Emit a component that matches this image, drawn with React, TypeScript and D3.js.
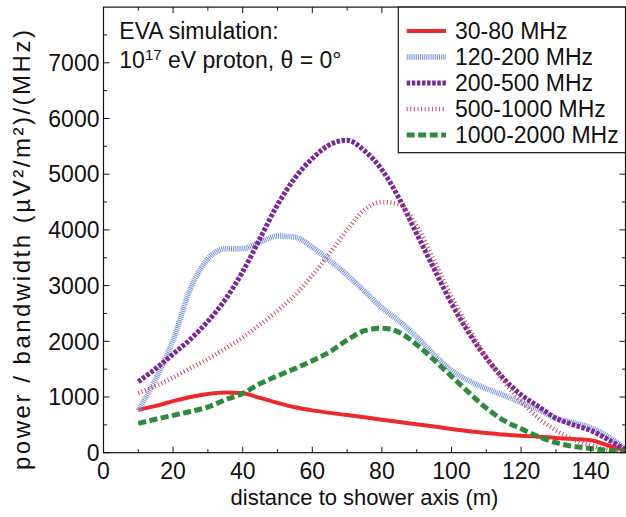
import React from 'react';
import * as d3 from 'd3';

// distance to shower axis (m)
const distance = [10, 15, 20, 25, 30, 35, 40, 45, 50, 55, 60, 65, 70, 75, 80, 85, 90, 95, 100, 105, 110, 115, 120, 125, 130, 135, 140, 145, 150];

// power / bandwidth per band
const band30to80 = [767, 840, 925, 1000, 1055, 1083, 1066, 985, 895, 815, 760, 715, 675, 635, 590, 550, 510, 470, 425, 385, 355, 325, 305, 288, 265, 245, 225, 130, 40];
const band120to200 = [760, 1320, 2020, 2950, 3480, 3660, 3665, 3780, 3890, 3870, 3690, 3450, 3190, 2900, 2600, 2360, 2080, 1760, 1480, 1290, 1150, 1030, 900, 770, 620, 540, 450, 290, 60];
const band200to500 = [1275, 1510, 1770, 2040, 2360, 2750, 3250, 3850, 4450, 4930, 5280, 5530, 5610, 5420, 5080, 4560, 3930, 3300, 2680, 2150, 1700, 1330, 1040, 830, 620, 500, 400, 235, 50];
const band500to1000 = [1066, 1200, 1350, 1520, 1680, 1870, 2070, 2300, 2550, 2830, 3180, 3580, 4000, 4360, 4500, 4460, 4080, 3450, 2800, 2230, 1720, 1280, 920, 620, 400, 240, 130, 50, 10];
const band1000to2000 = [527, 600, 670, 740, 820, 950, 1065, 1240, 1380, 1510, 1650, 1810, 2020, 2190, 2235, 2160, 1940, 1664, 1370, 1080, 800, 580, 430, 290, 180, 115, 75, 40, 15];

const seriesNames = ['30-80 MHz', '120-200 MHz', '200-500 MHz', '500-1000 MHz', '1000-2000 MHz'];
const seriesValues = [band30to80, band120to200, band200to500, band500to1000, band1000to2000];

const xTickValues = [0, 20, 40, 60, 80, 100, 120, 140];
const xMinorValues = [10, 30, 50, 70, 90, 110, 130, 150];
const yTickValues = [0, 1000, 2000, 3000, 4000, 5000, 6000, 7000];
const yMinorValues = [500, 1500, 2500, 3500, 4500, 5500, 6500, 7500];

const styles = [
  { color: '#ec2a2e', width: 4, dash: undefined as string | undefined },
  { color: '#7593dc', width: 5.5, dash: '1,0.9' },
  { color: '#7a2898', width: 5, dash: '3.5,1.6' },
  { color: '#c0505a', width: 4.5, dash: '1,2.6' },
  { color: '#2e8b3c', width: 5, dash: '8,3.5' },
];
const drawOrder = [0, 1, 2, 3, 4];

const FONT = '"Liberation Sans", Arial, Helvetica, sans-serif';

export default function App() {
  const W = 626;
  const H = 517;
  const left = 103.5, right = 625.5, top = 7.1, bottom = 452.7;
  const x = d3.scaleLinear().domain([0, 150]).range([left, right]);
  const y = d3.scaleLinear().domain([0, 8000]).range([bottom, top]);
  const line = d3
    .line<number>()
    .x((_, i) => x(distance[i]))
    .y((d) => y(d))
    .curve(d3.curveMonotoneX);

  const majorLen = 6;
  const minorLen = 3.5;

  const legX = 398.3;
  const legBottom = 152.7;
  const legBaselines = [38.5, 64.5, 90.5, 116.5, 142.5];

  return (
    <svg
      width={W}
      height={H}
      viewBox={`0 0 ${W} ${H}`}
      style={{ position: 'absolute', left: 0, top: 0, background: '#fff' }}
      fontFamily={FONT}
    >
      <defs>
        <clipPath id="plotClip">
          <rect x={left} y={top} width={right - left} height={bottom - top} />
        </clipPath>
      </defs>
      <rect x={0} y={0} width={W} height={H} fill="#fff" />

      {/* curves */}
      <g clipPath="url(#plotClip)">
        {drawOrder.map((k) => (
          <path
            key={k}
            d={line(seriesValues[k]) || ''}
            fill="none"
            stroke={styles[k].color}
            strokeWidth={styles[k].width}
            strokeDasharray={styles[k].dash}
            strokeLinecap="butt"
          />
        ))}
      </g>

      {/* frame */}
      <rect x={left} y={top} width={right - left} height={bottom - top} fill="none" stroke="#111" strokeWidth={1.2} />

      {/* x ticks */}
      {xTickValues.map((v) => (
        <g key={'xt' + v}>
          <line x1={x(v)} x2={x(v)} y1={bottom} y2={bottom - majorLen} stroke="#111" strokeWidth={1} />
          <line x1={x(v)} x2={x(v)} y1={top} y2={top + majorLen} stroke="#111" strokeWidth={1} />
          <text x={x(v)} y={479} fontSize={23} textAnchor="middle" fill="#111">
            {v}
          </text>
        </g>
      ))}
      {xMinorValues.map((v) => (
        <g key={'xm' + v}>
          <line x1={x(v)} x2={x(v)} y1={bottom} y2={bottom - minorLen} stroke="#111" strokeWidth={1} />
          <line x1={x(v)} x2={x(v)} y1={top} y2={top + minorLen} stroke="#111" strokeWidth={1} />
        </g>
      ))}

      {/* y ticks */}
      {yTickValues.map((v) => (
        <g key={'yt' + v}>
          <line x1={left} x2={left + majorLen} y1={y(v)} y2={y(v)} stroke="#111" strokeWidth={1} />
          <line x1={right} x2={right - majorLen} y1={y(v)} y2={y(v)} stroke="#111" strokeWidth={1} />
          <text x={99.5} y={y(v) + 8.2} fontSize={23} textAnchor="end" fill="#111">
            {v}
          </text>
        </g>
      ))}
      {yMinorValues.map((v) => (
        <g key={'ym' + v}>
          <line x1={left} x2={left + minorLen} y1={y(v)} y2={y(v)} stroke="#111" strokeWidth={1} />
          <line x1={right} x2={right - minorLen} y1={y(v)} y2={y(v)} stroke="#111" strokeWidth={1} />
        </g>
      ))}

      {/* axis titles */}
      <text x={(left + right) / 2} y={505} fontSize={22} textAnchor="middle" fill="#111">
        distance to shower axis (m)
      </text>
      <text
        transform={`translate(30,470) rotate(-90)`}
        fontSize={24}
        textAnchor="start"
        fill="#111"
        textLength={440}
        lengthAdjust="spacing"
      >
        power / bandwidth  (µV²/m²)/(MHz)
      </text>

      {/* annotation */}
      <text x={119.3} y={39.3} fontSize={23} fill="#111">
        EVA simulation:
      </text>
      <text x={119.3} y={68.3} fontSize={23} fill="#111">
        10
        <tspan fontSize={15} dy={-8.5}>
          17
        </tspan>
        <tspan dy={8.5}> eV proton, θ = 0°</tspan>
      </text>

      {/* legend */}
      <rect x={legX} y={top} width={right - legX} height={legBottom - top} fill="#fff" stroke="#111" strokeWidth={1.2} />
      {seriesNames.map((name, k) => (
        <g key={'leg' + k}>
          <line
            x1={406.7}
            x2={446}
            y1={legBaselines[k] - 7.5}
            y2={legBaselines[k] - 7.5}
            stroke={styles[k].color}
            strokeWidth={styles[k].width}
            strokeDasharray={styles[k].dash}
          />
          <text x={455} y={legBaselines[k]} fontSize={23} fill="#111">
            {name}
          </text>
        </g>
      ))}
    </svg>
  );
}
